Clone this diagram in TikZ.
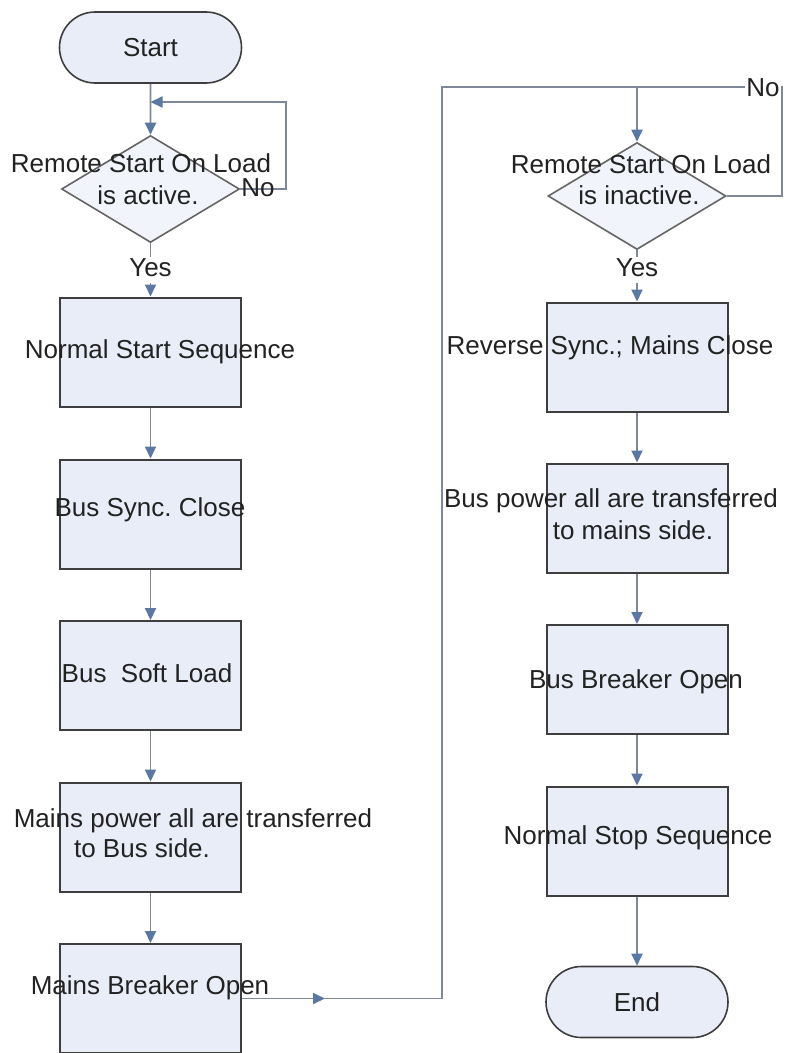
\documentclass[tikz,border=0pt]{standalone}
\usepackage{fontspec}
\setmainfont{Liberation Sans}
\usetikzlibrary{arrows.meta,shapes.geometric,shapes.misc}
\definecolor{boxfill}{HTML}{E8EDF7}
\definecolor{decfill}{HTML}{F1F4FA}
\definecolor{boxline}{HTML}{3E3E3E}
\definecolor{connline}{HTML}{7E8899}
\definecolor{tipcol}{HTML}{5B78A5}
\definecolor{txtcol}{HTML}{222222}
\frenchspacing
\begin{document}
\begin{tikzpicture}[x=1pt,y=-1pt,
  box/.style={rectangle,draw=boxline,line width=2pt,fill=boxfill,minimum width=181pt,minimum height=109pt,inner sep=0pt},
  term/.style={rounded rectangle,draw=boxline,line width=1.6pt,fill=boxfill,minimum width=182pt,minimum height=71pt,inner sep=0pt,font=\fontsize{26}{30}\selectfont,text=txtcol},
  dec/.style={diamond,draw=boxline!80,line width=1.6pt,fill=decfill,minimum width=178pt,minimum height=107pt,inner sep=0pt},
  txt/.style={inner sep=0pt,font=\fontsize{26}{30}\selectfont,text=txtcol,text height=19pt,text depth=5pt},
  lbl/.style={txt,fill=white,inner sep=1pt},
  conn/.style={draw=connline,line width=1.9pt},
  arr/.style={conn,-{Triangle[length=12pt,width=11pt,color=tipcol]}}
]
\useasboundingbox[fill=white] (0,0) rectangle (787,1053);

% left column
\node[term] (start) at (150.5,47.5) {Start};
\node[dec] (d1) at (150.5,189) {};
\node[txt,text depth=0pt] (d1a) at (141,162.5) {Remote Start On Load};
\node[txt] (d1b) at (148,197) {is active.};
\node[box] (b1) at (150.5,352) {};
\node[box] (b2) at (150.5,514) {};
\node[box] (b3) at (150.5,675.5) {};
\node[box] (b4) at (150.5,837) {};
\node[box] (b5) at (150.5,998.5) {};
\node[txt] (t1) at (160,351) {Normal Start Sequence};
\node[txt] (t2) at (150,509) {Bus Sync. Close};
\node[txt] (t3) at (147,675) {Bus\ \ Soft Load};
\node[txt] (t4a) at (193,820) {Mains power all are transferred};
\node[txt] (t4b) at (142,850) {to Bus side.};
\node[txt] (t5) at (150,987) {Mains Breaker Open};

% right column
\node[dec] (d2) at (637,196) {};
\node[txt,text depth=0pt] (d2a) at (641,163.5) {Remote Start On Load};
\node[txt] (d2b) at (639,197) {is inactive.};
\node[box] (r1) at (637,357) {};
\node[box] (r2) at (637,518) {};
\node[box] (r3) at (637,679.5) {};
\node[box] (r4) at (637,841) {};
\node[term] (end) at (637,1002) {End};
\node[txt] (u1) at (610,347) {Reverse Sync.; Mains Close};
\node[txt] (u2a) at (611,500) {Bus power all are transferred};
\node[txt] (u2b) at (633,532) {to mains side.};
\node[txt] (u3) at (636,681) {Bus Breaker Open};
\node[txt] (u4) at (638,837) {Normal Stop Sequence};

% coordinates
\coordinate (j1) at (150.5,102);
\coordinate (l1) at (286,102);
\coordinate (m1) at (325,998.5);
\coordinate (c2) at (442,998.5);
\coordinate (c3) at (442,87);
\coordinate (c4) at (637,87);
\coordinate (c5) at (782,87);

% left connectors
\draw[arr] (start) -- (d1);
\draw[arr] (d1.east) -| (l1) -- (j1);
\node[txt,text height=18pt,text depth=0pt] (no1) at (258,187) {No};
\draw[arr] (d1) -- node[lbl] (yes1) {Yes} (b1);
\draw[arr] (b1) -- (b2);
\draw[arr] (b2) -- (b3);
\draw[arr] (b3) -- (b4);
\draw[arr] (b4) -- (b5);
\draw[arr] (b5.east) -- (m1);
\draw[conn] (m1) -- (c2) -- (c3) -- (c4);

% right connectors
\draw[arr] (c4) -- (d2);
\draw[conn] (d2.east) -| (c5) -- (c4);
\node[lbl] (no2) at (763,89) {No};
\draw[arr] (d2) -- node[lbl,pos=0.38] (yes2) {Yes} (r1);
\draw[arr] (r1) -- (r2);
\draw[arr] (r2) -- (r3);
\draw[arr] (r3) -- (r4);
\draw[arr] (r4) -- (end);
\end{tikzpicture}
\end{document}
